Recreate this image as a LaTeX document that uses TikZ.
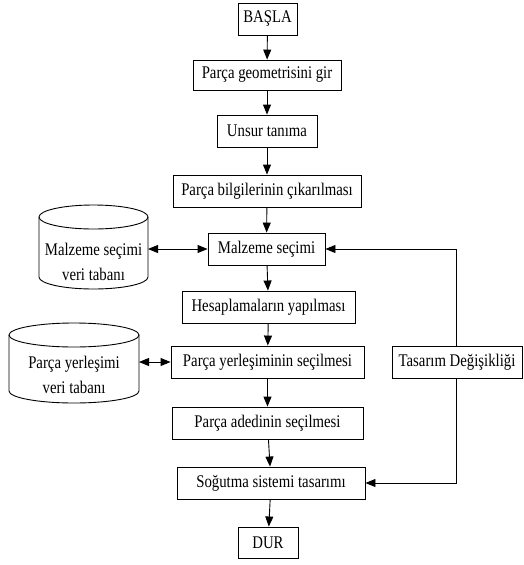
\documentclass[tikz,border=0pt]{standalone}
\usepackage{fontspec}
\setmainfont{Liberation Serif}[FakeStretch=0.83]
\usetikzlibrary{arrows.meta}
\begin{document}
\begin{tikzpicture}[x=1pt,y=-1pt,
  every node/.style={font=\fontsize{17.8}{20}\selectfont},
  box/.style={draw, line width=0.9pt, inner sep=0pt, minimum height=32pt},
  txt/.style={inner sep=0pt, align=center, font=\fontsize{17.8}{25}\selectfont},
  arr/.style={line width=0.9pt, -{Triangle[length=10pt,width=8pt]}},
  arrb/.style={line width=0.9pt, {Triangle[length=10pt,width=8pt]}-{Triangle[length=10pt,width=8pt]}},
  cyl/.style={line width=0.9pt}]
\useasboundingbox (0,0) rectangle (524,565);
\node[box, minimum width=59pt] (start) at (267.5,19) {BAŞLA};
\node[box, minimum width=148pt, minimum height=30pt] (geo) at (267,75) {Parça geometrisini gir};
\node[box, minimum width=100pt] (uns) at (267,131) {Unsur tanıma};
\node[box, minimum width=188pt] (bil) at (267,191) {Parça bilgilerinin çıkarılması};
\node[box, minimum width=117pt] (malz) at (266.5,249) {Malzeme seçimi};
\node[box, minimum width=173pt] (hes) at (268.5,307) {Hesaplamaların yapılması};
\node[box, minimum width=193pt] (yer) at (267.5,362) {Parça yerleşiminin seçilmesi};
\node[box, minimum width=191pt] (ade) at (267.5,423) {Parça adedinin seçilmesi};
\node[box, minimum width=188pt] (sog) at (271,483) {Soğutma sistemi tasarımı};
\node[box, minimum width=60pt, minimum height=31pt] (dur) at (268,542.5) {DUR};
\node[box, minimum width=130pt] (tas) at (457,362) {Tasarım Değişikliği};
% cylinder 1
\draw[cyl] (39,217) -- (39,277) arc[start angle=180, end angle=360, x radius=54.5pt, y radius=12pt] -- (148,217);
\draw[cyl] (93.5,217) ellipse[x radius=54.5pt, y radius=12pt];
\node[txt] (db1) at (93.5,262) {Malzeme seçimi\\veri tabanı};
\coordinate (db1r) at (148,249);
% cylinder 2
\draw[cyl] (9,335) -- (9,391) arc[start angle=180, end angle=360, x radius=65pt, y radius=12pt] -- (139,335);
\draw[cyl] (74,335) ellipse[x radius=65pt, y radius=12pt];
\node[txt] (db2) at (74,375) {Parça yerleşimi\\veri tabanı};
\coordinate (db2r) at (139,362);
% flow arrows
\draw[arr] (start) -- (geo);
\draw[arr] (geo) -- (uns);
\draw[arr] (uns) -- (bil);
\draw[arr] (bil) -- (malz);
\draw[arr] (malz) -- (hes);
\draw[arr] (hes) -- (yer);
\draw[arr] (yer) -- (ade);
\draw[arr] (ade) -- (sog);
\draw[arr] (sog) -- (dur);
\draw[arrb] (db1r) -- (malz.west);
\draw[arrb] (db2r) -- (yer.west);
\draw[arr] (tas.north -| 456,0) |- (malz.east);
\draw[arr] (tas.south -| 456,0) |- (sog.east);
\end{tikzpicture}
\end{document}
